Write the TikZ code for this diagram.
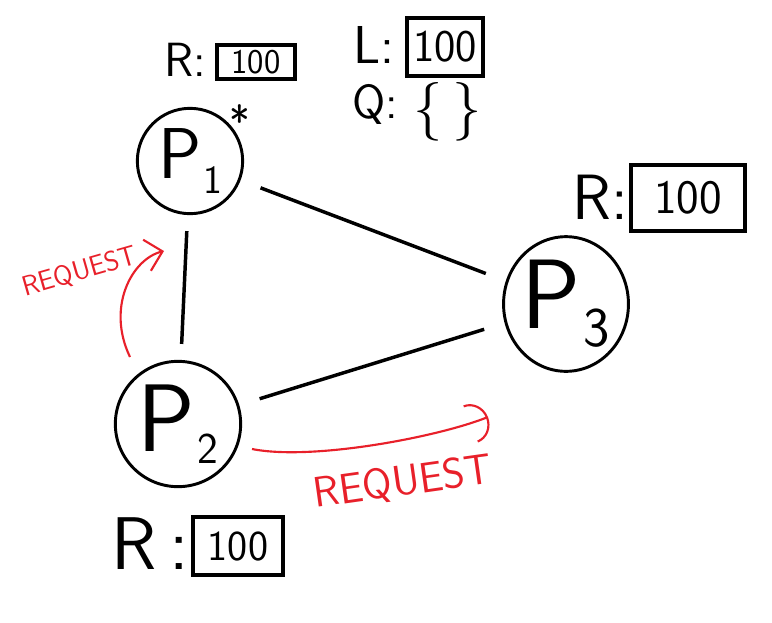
\documentclass[tikz,border=0pt]{standalone}
\usetikzlibrary{arrows.meta,calc,shapes.geometric}
\definecolor{reqred}{RGB}{232,32,42}
\newcommand{\procname}[3]{P\raisebox{-#3}{\fontsize{#2}{#2}\selectfont\hspace{0.05em}#1}}

\begin{document}
\begin{tikzpicture}[x=0.75pt,y=-0.75pt,
    hand/.style={font=\sffamily\fontsize{#1}{#1}\selectfont,inner sep=0pt},
    proc/.style={draw,circle,line width=2.2pt,inner sep=0pt},
    link/.style={line width=2.6pt,shorten <=16pt,shorten >=16pt},
    valbox/.style={draw,line width=2.8pt,inner sep=0pt},
    req/.style={reqred,line width=1.6pt},
    reqtxt/.style={reqred,font=\sffamily\fontsize{#1}{#1}\selectfont,inner sep=0pt}]
        \useasboundingbox (0,0) rectangle (772,622);
        % processes
        \node[proc,minimum size=79pt,hand=54] (P1) at (190,161) {\procname{1}{30pt}{0.2em}};
        \node[proc,minimum size=94pt,hand=72] (P2) at (178,424) {\procname{2}{33pt}{0.12em}};
        \node[proc,ellipse,minimum width=88pt,minimum height=101pt,hand=74] (P3) at (566,304) {\procname{3}{42pt}{0.18em}};
        \node[hand=33,anchor=north] (star) at (240,104) {*};
        \draw[link] (P1) -- (P3);
        \draw[link,shorten <=12pt,shorten >=12pt] (P1) -- (P2);
        \draw[link] (P2) -- (P3);
        % values
        \node[hand=36] (r1key) at (185,60) {R:};
        \node[valbox,minimum width=58pt,minimum height=26pt,hand=26] (r1box) at (256,62) {100};
        \node[hand=40] (lkey) at (374,45) {L:};
        \node[valbox,minimum width=57pt,minimum height=43pt,hand=34] (lbox) at (445,47) {100};
        \node[hand=36] (qkey) at (375,104) {Q:};
        \node[hand=44] (qval) at (448,112) {\{\,\}};
        \node[hand=48] (r3key) at (600,197) {R:};
        \node[valbox,minimum width=86pt,minimum height=49pt,hand=36] (r3box) at (688,198) {100};
        \node[hand=56] (r2key) at (150,544) {R\thinspace:};
        \node[valbox,minimum width=68pt,minimum height=43pt,hand=32] (r2box) at (238,546) {100};
        % requests
        \coordinate (req1s) at ($(P2)+(-48,-67)$);
        \coordinate (req1e) at ($(P1)+(-26,90)$);
        \draw[req,-{Straight Barb[length=12pt,width=24pt,line width=1.6pt]}] (req1s) .. controls +(-24,-50) and +(-32,8) .. (req1e);
        \node[reqtxt=21,rotate=16] (req1lbl) at (80,272) {REQUEST};
        \coordinate (req2s) at ($(P2)+(74,25)$);
        \coordinate (req2e) at ($(P3)+(-78,113)$);
        \draw[req,-{Arc Barb[length=14pt,width=30pt,line width=1.6pt]}] (req2s) .. controls +(60,12) and +(-50,20) .. (req2e);
        \node[reqtxt=32,rotate=8] (req2lbl) at (403,483) {REQUEST};
    \end{tikzpicture}
\end{document}
